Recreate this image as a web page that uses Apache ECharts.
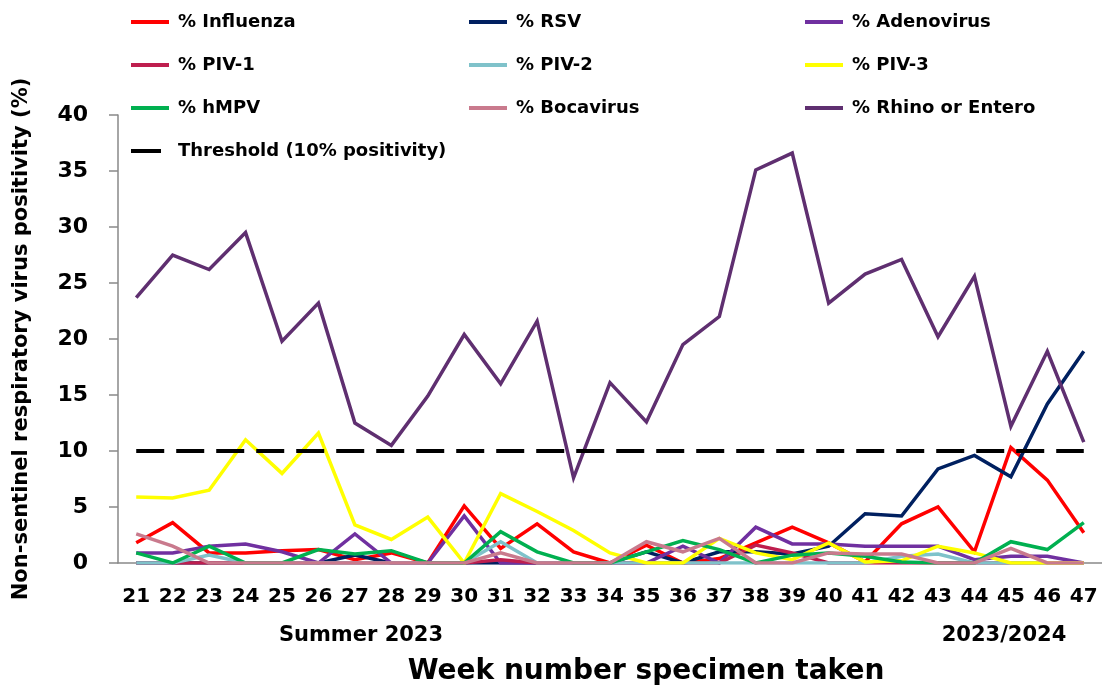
<!DOCTYPE html>
<html>
<head>
<meta charset="utf-8">
<title>Non-sentinel respiratory virus positivity</title>
<script src="https://cdn.jsdelivr.net/npm/echarts@6/dist/echarts.min.js"></script>
<style>
	html, body { margin: 0; padding: 0; background: #fff; }
	#chart1 { width: 1102px; height: 689px; }
</style>
</head>
<body>
<div id="chart1"></div>
<script>
// week numbers (x axis)
var weeks = ['21', '22', '23', '24', '25', '26', '27', '28', '29', '30', '31', '32', '33', '34',
	'35', '36', '37', '38', '39', '40', '41', '42', '43', '44', '45', '46', '47'];

// % positivity per virus
var influenza = [1.8, 3.6, 0.9, 0.9, 1.1, 1.2, 0.3, 0.9, 0, 5.1, 1.3, 3.5, 1.0, 0, 1.6, 0, 0.4, 1.8, 3.2, 1.8, 0.1, 3.5, 5.0, 1.0, 10.3, 7.4, 2.7];
var rsv = [0, 0, 0, 0, 0, 0, 0.7, 0, 0, 0, 0, 0, 0, 0, 1.0, 0, 1.0, 1.0, 0.8, 1.5, 4.4, 4.2, 8.4, 9.6, 7.7, 14.2, 18.9];
var adenovirus = [0.9, 0.9, 1.5, 1.7, 1.0, 0, 2.6, 0, 0, 4.2, 0, 0, 0, 0, 0, 1.5, 0, 3.2, 1.7, 1.7, 1.5, 1.5, 1.5, 0.3, 0.6, 0.6, 0];
var piv1 = [0, 0, 0, 0, 0, 0, 0, 0, 0, 0, 0.3, 0, 0, 0, 0, 0, 0, 1.6, 0.9, 0, 0, 0, 0, 0, 0, 0, 0];
var piv2 = [0, 0, 0.7, 0, 0, 0, 0, 0, 0, 0, 1.9, 0, 0, 0, 0, 0, 0, 0, 0, 0, 0, 0.6, 0.8, 0, 0, 0, 0];
var piv3 = [5.9, 5.8, 6.5, 11.0, 8.0, 11.6, 3.4, 2.1, 4.1, 0, 6.2, 4.6, 2.9, 0.9, 0, 0, 2.2, 0.9, 0.3, 1.8, 0.1, 0.2, 1.5, 0.9, 0, 0, 0];
var hmpv = [0.9, 0, 1.5, 0, 0, 1.2, 0.8, 1.1, 0, 0, 2.8, 1.0, 0, 0, 1.0, 2.0, 1.2, 0, 0.7, 0.9, 0.6, 0.1, 0, 0, 1.9, 1.2, 3.6];
var bocavirus = [2.6, 1.5, 0, 0, 0, 0, 0, 0, 0, 0, 0.9, 0, 0, 0, 1.9, 1.0, 2.2, 0, 0, 0.9, 0.8, 0.8, 0, 0, 1.3, 0, 0];
var rhinoEntero = [23.7, 27.5, 26.2, 29.5, 19.8, 23.2, 12.5, 10.5, 14.9, 20.4, 16.0, 21.6, 7.6, 16.1, 12.6, 19.5, 22.0, 35.1, 36.6, 23.2, 25.8, 27.1, 20.2, 25.6, 12.2, 18.9, 10.8];
var threshold = [10, 10, 10, 10, 10, 10, 10, 10, 10, 10, 10, 10, 10, 10, 10, 10, 10, 10, 10, 10, 10, 10, 10, 10, 10, 10, 10];

// y axis ticks
var yMin = 0, yMax = 40, yStep = 5;

var FONT = 'DejaVu Sans';
var AXIS_GREY = '#898989';

/**
 * build one line series
 */
function lineSeries(name, data, color, dashed) {
	return {
		name : name,
		type : 'line',
		data : data,
		symbol : 'none',
		smooth : false,
		color : color,
		lineStyle : {
			color : color,
			width : dashed ? 4 : 3.5,
			type : dashed ? [28, 12] : 'solid',
			cap : 'butt',
			join : 'miter'
		},
		emphasis : { disabled : true }
	};
}

/**
 * one vertical legend column (line icon drawn as a thin rect)
 */
function legendColumn(left, top, names, iconWidth, textPad) {
	return {
		orient : 'vertical',
		left : left,
		top : top,
		icon : 'rect',
		itemWidth : iconWidth,
		itemHeight : 4,
		itemGap : 25,
		selectedMode : false,
		textStyle : {
			fontFamily : FONT,
			fontWeight : 'bold',
			fontSize : 18,
			lineHeight : 18,
			color : '#000',
			padding : [0, 0, 0, textPad]
		},
		data : names
	};
}

var chart1 = echarts.init(document.getElementById('chart1'), null, { renderer : 'canvas' });

var options = {
	animation : false,
	backgroundColor : '#fff',
	legend : [
		legendColumn(126, 8, ['% Influenza', '% PIV-1', '% hMPV'], 38, 4),
		legendColumn(126, 137, ['Threshold (10% positivity)'], 30, 12),
		legendColumn(464, 8, ['% RSV', '% PIV-2', '% Bocavirus'], 38, 4),
		legendColumn(800, 8, ['% Adenovirus', '% PIV-3', '% Rhino or Entero'], 38, 4)
	],
	grid : {
		left : 118,
		top : 115,
		width : 987,
		height : 448,
		containLabel : false
	},
	xAxis : {
		type : 'category',
		data : weeks,
		boundaryGap : true,
		axisLine : { lineStyle : { color : AXIS_GREY, width : 1.5 } },
		axisTick : {
			alignWithLabel : false,
			length : 8,
			lineStyle : { color : AXIS_GREY, width : 1.5 }
		},
		axisLabel : {
			interval : 0,
			margin : 24,
			fontFamily : FONT,
			fontWeight : 'bold',
			fontSize : 20,
			color : '#000'
		},
		splitLine : { show : false }
	},
	yAxis : {
		type : 'value',
		min : yMin,
		max : yMax,
		interval : yStep,
		name : 'Non-sentinel respiratory virus positivity (%)',
		nameLocation : 'middle',
		nameGap : 86,
		nameTextStyle : {
			fontFamily : FONT,
			fontWeight : 'bold',
			fontSize : 21,
			color : '#000'
		},
		axisLine : { show : true, lineStyle : { color : AXIS_GREY, width : 1.5 } },
		axisTick : {
			show : true,
			length : 9,
			lineStyle : { color : AXIS_GREY, width : 1.5 }
		},
		axisLabel : {
			margin : 30,
			fontFamily : FONT,
			fontWeight : 'bold',
			fontSize : 22,
			color : '#000'
		},
		splitLine : { show : false }
	},
	graphic : [
		{
			type : 'text',
			x : 361,
			y : 636,
			style : {
				text : 'Summer 2023',
				font : 'bold 21px "DejaVu Sans"',
				fill : '#000',
				align : 'center',
				verticalAlign : 'middle'
			}
		},
		{
			type : 'text',
			x : 1004,
			y : 636,
			style : {
				text : '2023/2024',
				font : 'bold 21px "DejaVu Sans"',
				fill : '#000',
				align : 'center',
				verticalAlign : 'middle'
			}
		},
		{
			type : 'text',
			x : 646,
			y : 672,
			style : {
				text : 'Week number specimen taken',
				font : 'bold 28px "DejaVu Sans"',
				fill : '#000',
				align : 'center',
				verticalAlign : 'middle'
			}
		}
	],
	series : [
		lineSeries('% Influenza', influenza, '#ff0000'),
		lineSeries('% RSV', rsv, '#002060'),
		lineSeries('% Adenovirus', adenovirus, '#7030a0'),
		lineSeries('% PIV-1', piv1, '#be1e4e'),
		lineSeries('% PIV-2', piv2, '#7fc2ca'),
		lineSeries('% PIV-3', piv3, '#ffff00'),
		lineSeries('% hMPV', hmpv, '#00b050'),
		lineSeries('% Bocavirus', bocavirus, '#c97a8d'),
		lineSeries('% Rhino or Entero', rhinoEntero, '#5f2f70'),
		lineSeries('Threshold (10% positivity)', threshold, '#000000', true)
	]
};
chart1.setOption(options);
</script>
</body>
</html>
